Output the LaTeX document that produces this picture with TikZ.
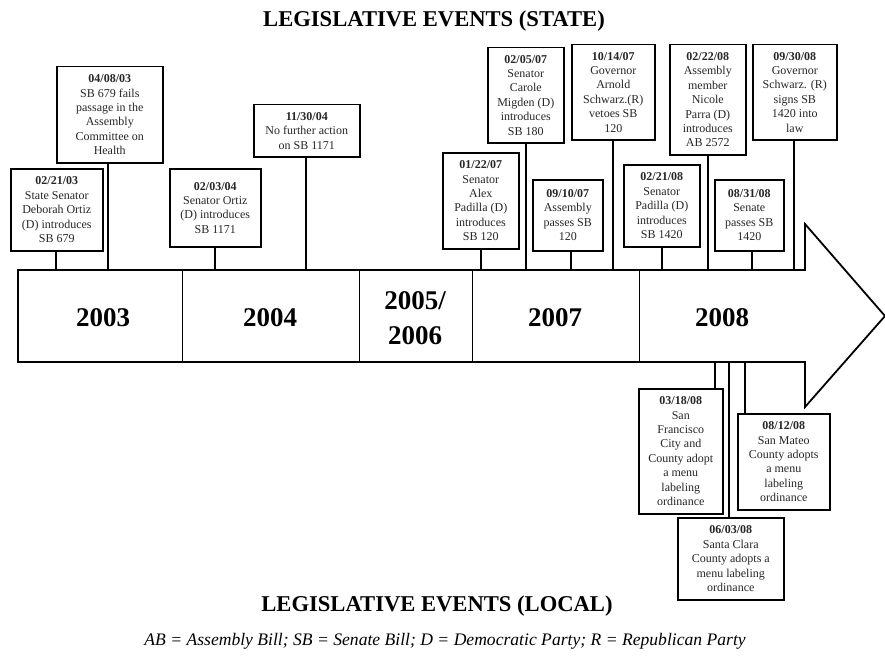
\documentclass[tikz,border=0pt]{standalone}
\usepackage{fontspec}
\setmainfont{Liberation Serif}
\begin{document}
\begin{tikzpicture}[x=1pt,y=-1pt,
  evbox/.style={draw, line width=1.5pt, align=center, inner sep=0pt, anchor=north west,
    font=\fontsize{12}{14.4}\selectfont, text=black!85},
  conn/.style={line width=1.5pt},
  year/.style={font=\fontsize{27}{35}\selectfont\bfseries, align=center},
  ttl/.style={font=\fontsize{22.6}{25}\selectfont\bfseries},
  divider/.style={line width=0.8pt}]
\useasboundingbox (0,0) rectangle (885,658);

% titles
\node[ttl] (tstate) at (434,21) {LEGISLATIVE EVENTS (STATE)};
\node[ttl] (tlocal) at (437,606) {LEGISLATIVE EVENTS (LOCAL)};
\node[font=\fontsize{17.6}{20}\selectfont\itshape] (note) at (445,641)
  {AB = Assembly Bill; SB = Senate Bill; D = Democratic Party; R = Republican Party};

% arrow
\draw[line width=1.8pt, line join=miter] (18,270) -- (805,270) -- (805,224) -- (885,316)
  -- (805,407) -- (805,362) -- (18,362) -- cycle;
\coordinate (d1) at (182,270); \coordinate (d1b) at (182,362);
\coordinate (d2) at (359,270); \coordinate (d2b) at (359,362);
\coordinate (d3) at (472,270); \coordinate (d3b) at (472,362);
\coordinate (d4) at (639,270); \coordinate (d4b) at (639,362);
\draw[divider] (d1) -- (d1b);
\draw[divider] (d2) -- (d2b);
\draw[divider] (d3) -- (d3b);
\draw[divider] (d4) -- (d4b);

\node[year] (y03) at (103,318) {2003};
\node[year] (y04) at (270,318) {2004};
\node[year] (y05) at (415,318) {2005/\\2006};
\node[year] (y07) at (555,318) {2007};
\node[year] (y08) at (722,318) {2008};

% state event boxes
\node[evbox, minimum width=92pt, minimum height=82pt] (b1) at (10,168)
  {\textbf{02/21/03}\\State Senator\\Deborah Ortiz\\(D) introduces\\SB 679};
\node[evbox, minimum width=106pt, minimum height=96pt] (b2) at (56,66)
  {\textbf{04/08/03}\\SB 679 fails\\passage in the\\Assembly\\Committee on\\Health};
\node[evbox, minimum width=91pt, minimum height=78pt] (b3) at (169,168)
  {\textbf{02/03/04}\\Senator Ortiz\\(D) introduces\\SB 1171};
\node[evbox, minimum width=106pt, minimum height=52pt] (b4) at (253,104)
  {\textbf{11/30/04}\\No further action\\on SB 1171};
\node[evbox, minimum width=76pt, minimum height=96pt] (b5) at (442,152)
  {\textbf{01/22/07}\\Senator\\Alex\\Padilla (D)\\introduces\\SB 120};
\node[evbox, minimum width=76pt, minimum height=95pt] (b6) at (487,47)
  {\textbf{02/05/07}\\Senator\\Carole\\Migden (D)\\introduces\\SB 180};
\node[evbox, minimum width=70pt, minimum height=71pt] (b7) at (532,179)
  {\textbf{09/10/07}\\Assembly\\passes SB\\120};
\node[evbox, minimum width=83pt, minimum height=95pt] (b8) at (571,44)
  {\textbf{10/14/07}\\Governor\\Arnold\\Schwarz.(R)\\vetoes SB\\120};
\node[evbox, minimum width=76pt, minimum height=82pt] (b9) at (623,164)
  {\textbf{02/21/08}\\Senator\\Padilla (D)\\introduces\\SB 1420};
\node[evbox, minimum width=76pt, minimum height=110pt] (b10) at (669,44)
  {\textbf{02/22/08}\\Assembly\\member\\Nicole\\Parra (D)\\introduces\\AB 2572};
\node[evbox, minimum width=69pt, minimum height=71pt] (b11) at (714,179)
  {\textbf{08/31/08}\\Senate\\passes SB\\1420};
\node[evbox, minimum width=84pt, minimum height=95pt] (b12) at (752,44)
  {\textbf{09/30/08}\\Governor\\Schwarz. (R)\\signs SB\\1420 into\\law};

% local event boxes
\node[evbox, minimum width=84pt, minimum height=125pt] (b13) at (638,388)
  {\textbf{03/18/08}\\San\\Francisco\\City and\\County adopt\\a menu\\labeling\\ordinance};
\node[evbox, minimum width=106pt, minimum height=82pt] (b14) at (677,517)
  {\textbf{06/03/08}\\Santa Clara\\County adopts a\\menu labeling\\ordinance};
\node[evbox, minimum width=92pt, minimum height=96pt] (b15) at (737,413)
  {\textbf{08/12/08}\\San Mateo\\County adopts\\a menu\\labeling\\ordinance};

% connector anchors on the arrow
\coordinate (t1) at (56,270);
\coordinate (t2) at (108,270);
\coordinate (t3) at (215,270);
\coordinate (t4) at (306,270);
\coordinate (t5) at (481,270);
\coordinate (t6) at (526,270);
\coordinate (t7) at (571,270);
\coordinate (t8) at (613,270);
\coordinate (t9) at (662,270);
\coordinate (t10) at (708,270);
\coordinate (t11) at (752,270);
\coordinate (t12) at (794,270);
\coordinate (t13) at (715,362);
\coordinate (t14) at (729,362);
\coordinate (t15) at (745,362);

\draw[conn] (t1) -- (t1 |- b1.south);
\draw[conn] (t2) -- (t2 |- b2.south);
\draw[conn] (t3) -- (t3 |- b3.south);
\draw[conn] (t4) -- (t4 |- b4.south);
\draw[conn] (t5) -- (t5 |- b5.south);
\draw[conn] (t6) -- (t6 |- b6.south);
\draw[conn] (t7) -- (t7 |- b7.south);
\draw[conn] (t8) -- (t8 |- b8.south);
\draw[conn] (t9) -- (t9 |- b9.south);
\draw[conn] (t10) -- (t10 |- b10.south);
\draw[conn] (t11) -- (t11 |- b11.south);
\draw[conn] (t12) -- (t12 |- b12.south);
\draw[conn] (t13) -- (t13 |- b13.north);
\draw[conn] (t14) -- (t14 |- b14.north);
\draw[conn] (t15) -- (t15 |- b15.north);
\end{tikzpicture}
\end{document}
